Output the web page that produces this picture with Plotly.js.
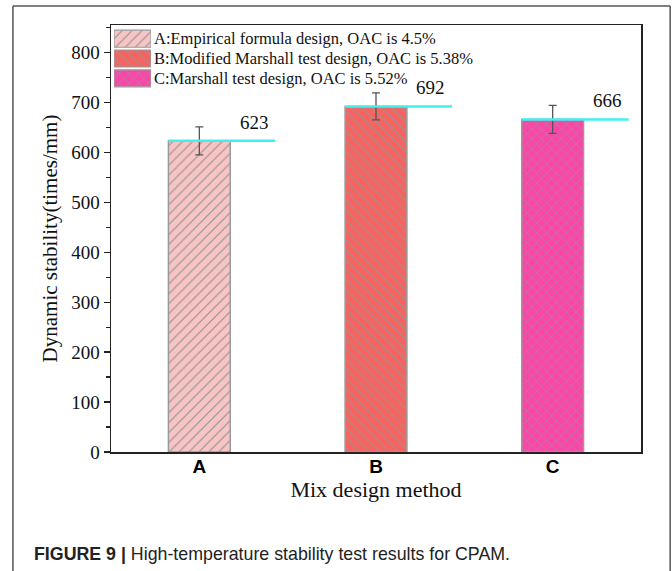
<!DOCTYPE html>
<html>
<head>
<meta charset="utf-8">
<script src="https://cdn.plot.ly/plotly-3.0.1.min.js"></script>
<style>body{margin:0;background:#fff}#chart{width:672px;height:571px}</style>
</head>
<body>
<div id="chart"></div>
<script>
const categories = ["A", "B", "C"];
const seriesNames = [
  "A:Empirical formula design, OAC is 4.5%",
  "B:Modified Marshall test design, OAC is 5.38%",
  "C:Marshall test design, OAC is 5.52%"
];
const values = [623, 692, 666];
const errors = [28, 27, 28];
const valueLabels = ["623", "692", "666"];
const yTicks = [0, 100, 200, 300, 400, 500, 600, 700, 800];

const fills = ["#f9c4c4", "#f8625f", "#fd44a8"];
const shapesPat = ["/", "\\", "x"];
const barWidth = 0.35;
const serif = "Liberation Serif, Times New Roman, serif";

function pat(i) {
  return {shape: shapesPat[i], fgcolor: "#959595", bgcolor: fills[i], size: 7, solidity: 0.17, fillmode: "replace"};
}

const traces = categories.map((c, i) => ({
  type: "bar",
  x: [i],
  y: [values[i]],
  name: seriesNames[i],
  width: barWidth,
  showlegend: false,
  marker: {
    color: fills[i],
    line: {color: "#9a9a9a", width: 1.5},
    pattern: pat(i)
  },
  error_y: {type: "data", array: [errors[i]], visible: true, color: "#555", thickness: 1.3, width: 4},
  hoverinfo: "skip"
}));

// custom legend swatches (horizontal bars on a small inset axis)
categories.forEach((c, i) => {
  traces.push({
    type: "bar", orientation: "h",
    x: [1], y: [i], xaxis: "x2", yaxis: "y2",
    width: 0.86, showlegend: false, hoverinfo: "skip",
    marker: {color: fills[i], line: {color: "#9a9a9a", width: 1.2}, pattern: pat(i)}
  });
});

const shapes = values.map((v, i) => ({
  type: "line", xref: "x", yref: "y",
  x0: i - barWidth / 2, x1: i + 0.43, y0: v, y1: v,
  line: {color: "#3ff0f0", width: 2.5}
}));
// outer figure frame
const frame = {color: "#555", width: 1.5};
shapes.push({type: "line", xref: "paper", yref: "paper", x0: -0.185, x1: -0.185, y0: 1.0445, y1: -0.3, line: frame});
shapes.push({type: "line", xref: "paper", yref: "paper", x0: -0.185, x1: 1.055, y0: 1.0445, y1: 1.0445, line: frame});
shapes.push({type: "line", xref: "paper", yref: "paper", x0: 1.055, x1: 1.055, y0: 1.0445, y1: -0.3, line: frame});

const annotations = values.map((v, i) => ({
  xref: "x", yref: "y", x: i + 0.31, y: v, text: valueLabels[i],
  showarrow: false, yanchor: "bottom", yshift: 6,
  font: {family: serif, size: 19, color: "#111"}
}));
seriesNames.forEach((n, i) => {
  annotations.push({
    xref: "x2", yref: "y2", x: 1, y: i, xanchor: "left", yanchor: "middle", xshift: 1,
    text: n, showarrow: false,
    font: {family: serif, size: 16.5, color: "#111"}
  });
});
annotations.push({
  xref: "paper", yref: "paper", x: -0.15, y: -0.24, xanchor: "left", yanchor: "middle",
  showarrow: false,
  text: "<b>FIGURE 9 |</b> High-temperature stability test results for CPAM.",
  font: {family: "Liberation Sans, Arial, sans-serif", size: 17.8, color: "#222"}
});

const layout = {
  width: 672, height: 571,
  margin: {l: 111, r: 31, t: 25, b: 119},
  paper_bgcolor: "#fff", plot_bgcolor: "#fff",
  showlegend: false,
  bargap: 0,
  xaxis: {
    range: [-0.5, 2.5],
    tickvals: [0, 1, 2], ticktext: categories,
    tickfont: {family: "Liberation Sans, Arial, sans-serif", size: 19, color: "#000", weight: "bold"},
    ticklabelstandoff: -3,
    showline: true, linecolor: "#222", linewidth: 1.5, mirror: true,
    ticks: "", showgrid: false, zeroline: false,
    title: {text: "Mix design method", font: {family: serif, size: 22, color: "#111"}, standoff: 0}
  },
  yaxis: {
    range: [0, 855],
    tickvals: yTicks,
    tickfont: {family: serif, size: 19, color: "#111"},
    showline: true, linecolor: "#222", linewidth: 1.5, mirror: true,
    ticks: "outside", ticklen: 6, tickwidth: 1.3, tickcolor: "#222",
    minor: {dtick: 50, ticks: "outside", ticklen: 4, tickwidth: 1.2, tickcolor: "#222", showgrid: false},
    showgrid: false, zeroline: false,
    title: {text: "Dynamic stability(times/mm)", font: {family: serif, size: 21, color: "#111"}, standoff: 8}
  },
  xaxis2: {domain: [0.0057, 0.0755], range: [0, 1], anchor: "y2", visible: false, fixedrange: true},
  yaxis2: {domain: [0.852, 0.991], range: [2.5, -0.5], anchor: "x2", visible: false, fixedrange: true},
  shapes: shapes,
  annotations: annotations
};

Plotly.newPlot("chart", traces, layout, {displayModeBar: false, staticPlot: true});
</script>
</body>
</html>
